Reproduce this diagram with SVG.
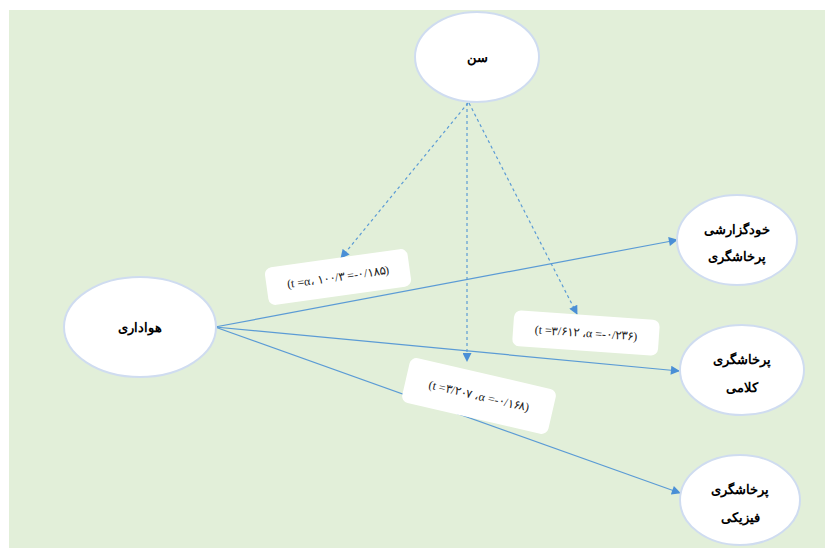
<svg xmlns="http://www.w3.org/2000/svg" width="825" height="550" viewBox="0 0 825 550">
<style>
.node ellipse{fill:#ffffff;stroke:#cfdcf0;stroke-width:2}
.nt{font-family:"Liberation Serif","DejaVu Serif",serif;font-size:13px;font-weight:bold;fill:#000;text-anchor:middle;direction:rtl}
.lab rect{fill:#ffffff;stroke:none}
.lt{font-family:"Liberation Serif","DejaVu Serif",serif;font-size:12px;fill:#222;text-anchor:middle;direction:ltr;unicode-bidi:bidi-override}
.solid{stroke:#5b9bd5;stroke-width:1.2;fill:none}
.dash{stroke:#5b9bd5;stroke-width:1.2;fill:none;stroke-dasharray:3 3}
</style>
<defs>
<marker id="ah" viewBox="0 0 10 10" refX="9" refY="5" markerWidth="10" markerHeight="9" markerUnits="userSpaceOnUse" orient="auto"><path d="M0,0 L10,5 L0,10 z" fill="#4a8fd6"/></marker>
</defs>
<rect x="9" y="10" width="816" height="538" fill="#e2efd9"/>
<g id="connectors">
<line class="solid" x1="215" y1="327" x2="677" y2="240" marker-end="url(#ah)"/>
<line class="solid" x1="215" y1="327" x2="679" y2="371" marker-end="url(#ah)"/>
<line class="solid" x1="215" y1="327" x2="680" y2="493" marker-end="url(#ah)"/>
<line class="dash" x1="468" y1="103" x2="341" y2="258" marker-end="url(#ah)"/>
<line class="dash" x1="467" y1="103" x2="467" y2="361" marker-end="url(#ah)"/>
<line class="dash" x1="469" y1="103" x2="577" y2="314" marker-end="url(#ah)"/>
</g>
<g id="label1" class="lab" transform="translate(338,277) rotate(-8)">
<rect x="-72" y="-19" width="144" height="38" rx="7"/>
<text class="lt" x="0" y="4">(t =α، ۱۰۰/۳ =-۰/۱۸۵)</text>
</g>
<g id="label2" class="lab" transform="translate(586,333) rotate(4)">
<rect x="-73" y="-18" width="146" height="36" rx="7"/>
<text class="lt" x="0" y="4">(t =۳/۶۱۲ ،α =-۰/۲۳۶)</text>
</g>
<g id="label3" class="lab" transform="translate(479,396) rotate(13)">
<rect x="-75" y="-23" width="150" height="46" rx="7"/>
<text class="lt" x="0" y="4">(t =۳/۲۰۷ ،α =-۰/۱۶۸)</text>
</g>
<g id="node-sen" class="node">
<ellipse cx="477" cy="57" rx="62" ry="45"/>
<text class="nt" x="477" y="62">سن</text>
</g>
<g id="node-havadari" class="node">
<ellipse cx="140" cy="327" rx="76" ry="50"/>
<text class="nt" x="140" y="332">هواداری</text>
</g>
<g id="node-khodgozareshi" class="node">
<ellipse cx="737" cy="240" rx="60" ry="45"/>
<text class="nt" x="737" y="234">خودگزارشی</text>
<text class="nt" x="737" y="261">پرخاشگری</text>
</g>
<g id="node-kalami" class="node">
<ellipse cx="742" cy="370" rx="62" ry="45"/>
<text class="nt" x="742" y="364">پرخاشگری</text>
<text class="nt" x="742" y="392">کلامی</text>
</g>
<g id="node-fiziki" class="node">
<ellipse cx="740" cy="500" rx="60" ry="45"/>
<text class="nt" x="740" y="494">پرخاشگری</text>
<text class="nt" x="740" y="522">فیزیکی</text>
</g>
</svg>
